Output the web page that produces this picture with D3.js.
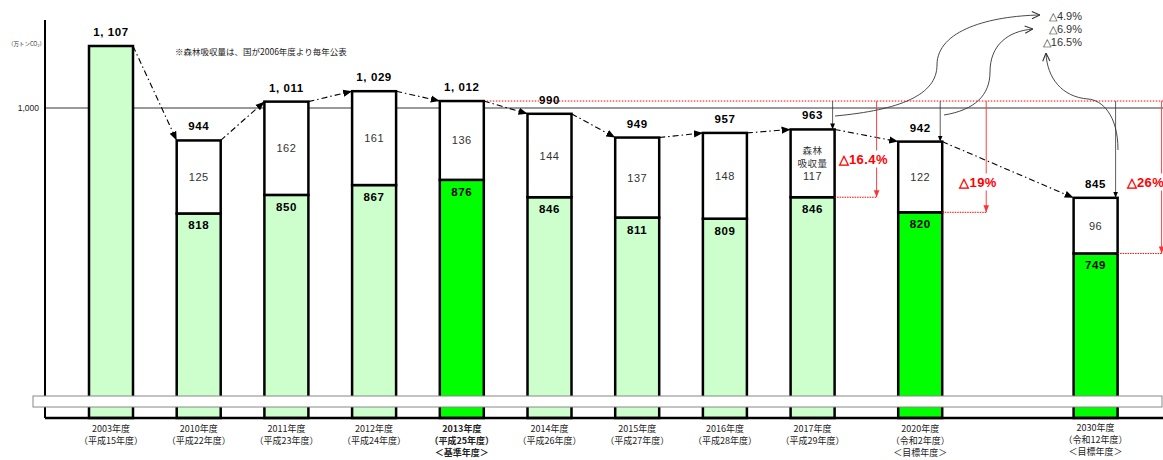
<!DOCTYPE html>
<html>
<head>
<meta charset="utf-8">
<script src="https://d3js.org/d3.v7.min.js"></script>
<style>
  body { margin: 0; background: #fff; }
  text { font-family: "Liberation Sans", Arial, sans-serif; }
  .jp { font-family: "Noto Sans CJK JP", sans-serif; }
</style>
</head>
<body>
<script>
// ---- data ----
const years = ["2003年度", "2010年度", "2011年度", "2012年度", "2013年度", "2014年度",
               "2015年度", "2016年度", "2017年度", "2020年度", "2030年度"];
const eraLabels = ["（平成15年度）", "（平成22年度）", "（平成23年度）", "（平成24年度）", "（平成25年度）",
                   "（平成26年度）", "（平成27年度）", "（平成28年度）", "（平成29年度）", "（令和2年度）", "（令和12年度）"];
const noteLabels = ["", "", "", "", "＜基準年度＞", "", "", "", "", "＜目標年度＞", "＜目標年度＞"];
const totals = [1107, 944, 1011, 1029, 1012, 990, 949, 957, 963, 942, 845];
const emissions = [1107, 818, 850, 867, 876, 846, 811, 809, 846, 820, 749];
const sinks = [null, 125, 162, 161, 136, 144, 137, 148, 117, 122, 96];
const keyYears = ["2013年度", "2020年度", "2030年度"];
const baseYear = "2013年度";
const cuts = [
  { year: "2017年度", label: "△16.4%" },
  { year: "2020年度", label: "△19%" },
  { year: "2030年度", label: "△26%" }
];
const otherCuts = ["△4.9%", "△6.9%", "△16.5%"];
const yTicks = [1000];

// ---- layout ----
var w = 1163, h = 460;
var svg = d3.select("body").append("svg").attr("width", w).attr("height", h);

var barW = 44;
var bottom = 418;
// 2020 and 2030 stand apart from the yearly run
var slot = i => i + (i >= 9 ? 0.227 : 0) + (i >= 10 ? 1 : 0);
var x = d3.scaleLinear().domain([0, 1]).range([111, 198.7]);
var cx = i => x(slot(i));
var y = d3.scaleLinear().domain([465, 1000]).range([bottom, 108]);
var idx = name => years.indexOf(name);

var defs = svg.append("defs");
function marker(id, size, color, open) {
  var m = defs.append("marker").attr("id", id)
    .attr("viewBox", "0 0 10 10").attr("refX", 10).attr("refY", 5)
    .attr("markerWidth", size).attr("markerHeight", size)
    .attr("markerUnits", "userSpaceOnUse").attr("orient", "auto");
  if (open) {
    m.append("path").attr("d", "M1,1 L10,5 L1,9").attr("fill", "none")
      .attr("stroke", color).attr("stroke-width", 1.2);
  } else {
    m.append("path").attr("d", "M0,1 L10,5 L0,9 z").attr("fill", color);
  }
}
marker("arrBlack", 9, "#000", false);
marker("arrSmall", 6, "#000", false);
marker("arrRed", 7, "#ff3030", false);
marker("arrOpen", 9, "#333", true);

// gridline at 1,000
svg.append("line")
  .attr("x1", 45).attr("x2", w).attr("y1", y(1000)).attr("y2", y(1000))
  .attr("stroke", "#9a9a9a").attr("stroke-width", 2.2);

// y axis
var yAxis = svg.append("g").attr("transform", "translate(45,0)")
  .call(d3.axisLeft(y).tickValues(yTicks).tickSize(0).tickPadding(6).tickFormat(d3.format(",")));
yAxis.select(".domain").remove();
yAxis.selectAll("text").attr("font-size", 8.5).attr("fill", "#222")
  .style("font-family", "Liberation Sans, Arial, sans-serif");
svg.append("line").attr("x1", 45).attr("x2", 45).attr("y1", 20).attr("y2", bottom)
  .attr("stroke", "#000").attr("stroke-width", 2);
svg.append("text").attr("class", "jp").attr("x", 8).attr("y", 46)
  .attr("font-size", 5.5).attr("fill", "#333").text("（万トンCO₂）");

// note
svg.append("text").attr("class", "jp").attr("x", 175).attr("y", 55)
  .attr("font-size", 8.5).attr("fill", "#222").text("※森林吸収量は、国が2006年度より毎年公表");

// red dotted base-year line
var bi = idx(baseYear);
svg.append("line")
  .attr("x1", cx(bi) + barW / 2).attr("x2", w)
  .attr("y1", y(totals[bi])).attr("y2", y(totals[bi]))
  .attr("stroke", "#ff0000").attr("stroke-width", 1).attr("stroke-dasharray", "1.5,1.5");

// bars
var bars = svg.append("g");
years.forEach(function (yr, i) {
  var g = bars.append("g");
  var fill = keyYears.includes(yr) ? "#00ff00" : "#ccffcc";
  g.append("rect")
    .attr("x", cx(i) - barW / 2).attr("width", barW)
    .attr("y", y(emissions[i])).attr("height", bottom - y(emissions[i]))
    .attr("fill", fill).attr("stroke", "#000").attr("stroke-width", 2.5);
  if (sinks[i] != null) {
    g.append("rect")
      .attr("x", cx(i) - barW / 2).attr("width", barW)
      .attr("y", y(totals[i])).attr("height", y(emissions[i]) - y(totals[i]))
      .attr("fill", "#fff").attr("stroke", "#000").attr("stroke-width", 2.5);
    var mid = (y(totals[i]) + y(emissions[i])) / 2;
    var lines = yr === "2017年度" ? ["森林", "吸収量", String(sinks[i])] : [String(sinks[i])];
    lines.forEach(function (t, k) {
      g.append("text")
        .attr("class", k < lines.length - 1 ? "jp" : null)
        .attr("x", cx(i)).attr("y", mid + (k - (lines.length - 1) / 2) * 13)
        .attr("dominant-baseline", "central").attr("text-anchor", "middle")
        .attr("font-size", k < lines.length - 1 ? 9.5 : 11).attr("fill", "#333")
        .attr("letter-spacing", 0.5).text(t);
    });
    g.append("text")
      .attr("x", cx(i)).attr("y", y(emissions[i]) + 16)
      .attr("text-anchor", "middle").attr("font-size", 11.5).attr("font-weight", "bold")
      .attr("letter-spacing", 0.6).text(emissions[i]);
  }
  var fmt = totals[i] >= 1000 ? d3.format(",")(totals[i]).replace(",", ", ") : String(totals[i]);
  g.append("text")
    .attr("x", cx(i)).attr("y", y(totals[i]) - 10)
    .attr("text-anchor", "middle").attr("font-size", 11.5).attr("font-weight", "bold")
    .attr("letter-spacing", 0.6).text(fmt);
});

// dash-dot trend arrows between bar tops
for (var i = 0; i < years.length - 1; i++) {
  svg.append("line")
    .attr("x1", cx(i) + barW / 2).attr("y1", y(totals[i]))
    .attr("x2", cx(i + 1) - barW / 2).attr("y2", y(totals[i + 1]))
    .attr("stroke", "#000").attr("stroke-width", 1.1)
    .attr("stroke-dasharray", "6,3,1.5,3")
    .attr("marker-end", "url(#arrBlack)");
}

// reduction markers vs base year
var baseY = y(totals[bi]);
var redDx = [42, 44, 44];
var labDx = [4, 17, 9];
var labY = [159, 182, 182];
cuts.forEach(function (c, k) {
  var i = idx(c.year);
  var right = cx(i) + barW / 2;
  var rx = right + redDx[k];
  // black drop line to bar top
  svg.append("line").attr("x1", right - 2).attr("x2", right - 2)
    .attr("y1", baseY).attr("y2", y(totals[i]))
    .attr("stroke", "#333").attr("stroke-width", 0.8).attr("marker-end", "url(#arrSmall)");
  // red drop line to emission level
  svg.append("line").attr("x1", rx).attr("x2", rx)
    .attr("y1", baseY).attr("y2", y(emissions[i]))
    .attr("stroke", "#ff4040").attr("stroke-width", 1).attr("marker-end", "url(#arrRed)");
  svg.append("line").attr("x1", right).attr("x2", rx)
    .attr("y1", y(emissions[i])).attr("y2", y(emissions[i]))
    .attr("stroke", "#ff0000").attr("stroke-width", 1).attr("stroke-dasharray", "1.5,1");
  var t = svg.append("text").attr("x", right + labDx[k]).attr("y", labY[k])
    .attr("dominant-baseline", "central").attr("font-size", 13).attr("font-weight", "bold")
    .attr("letter-spacing", 0.4).attr("fill", "#ff0000").text(c.label);
  var bb = t.node().getBBox();
  svg.insert("rect", function () { return t.node(); })
    .attr("x", bb.x - 1).attr("y", bb.y - 1).attr("width", bb.width + 2).attr("height", bb.height + 2)
    .attr("fill", "#fff");
});

// curved callouts to the other-target percentages
var curves = [
  "M835,116 C900,110 937,95 937,65 C937,30 990,16 1040,15",
  "M944,115 C975,110 990,95 990,72 C990,45 1008,31 1033,29",
  "M1118,150 C1118,115 1102,100 1088,99 C1062,97 1047,78 1046,53"
];
curves.forEach(function (d) {
  svg.append("path").attr("d", d).attr("fill", "none")
    .attr("stroke", "#333").attr("stroke-width", 0.9).attr("marker-end", "url(#arrOpen)");
});
otherCuts.forEach(function (t, k) {
  svg.append("text").attr("x", 1082).attr("y", 16 + k * 13)
    .attr("dominant-baseline", "central").attr("text-anchor", "end")
    .attr("font-size", 11).attr("fill", "#333").text(t);
});

// axis break band and baseline
svg.append("rect").attr("x", 33).attr("y", 396).attr("width", 1129).attr("height", 11)
  .attr("fill", "#fff").attr("stroke", "#888").attr("stroke-width", 1);
svg.append("line").attr("x1", 45).attr("x2", w).attr("y1", bottom).attr("y2", bottom)
  .attr("stroke", "#000").attr("stroke-width", 2.5);

// category labels
years.forEach(function (yr, i) {
  var bold = yr === baseYear;
  var top = yr === "2030年度" ? 427 : 428.5;
  [yr, eraLabels[i], noteLabels[i]].forEach(function (t, k) {
    if (!t) return;
    svg.append("text").attr("class", "jp")
      .attr("x", cx(i)).attr("y", top + k * 12)
      .attr("dominant-baseline", "central").attr("text-anchor", "middle")
      .attr("font-size", 9).attr("font-weight", bold ? "bold" : "normal")
      .attr("fill", "#222").text(t);
  });
});
</script>
</body>
</html>
